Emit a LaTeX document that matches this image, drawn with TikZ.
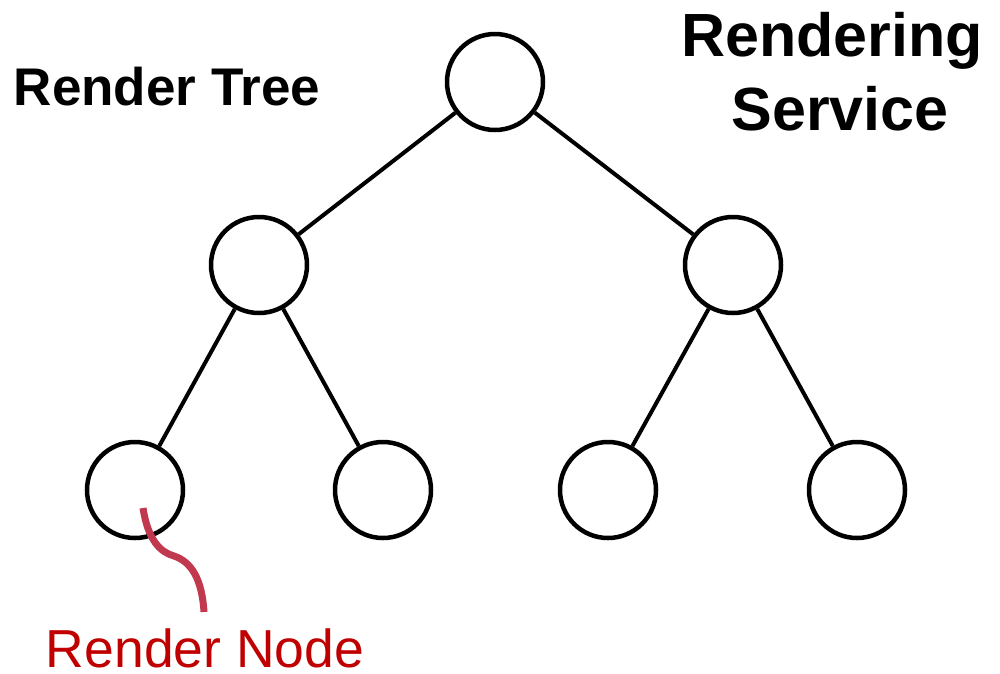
\documentclass[tikz,border=0pt]{standalone}
\usepackage{fontspec}
\setmainfont{Liberation Sans}
\begin{document}
\begin{tikzpicture}[x=1pt,y=-1pt,
  tnode/.style={circle,draw=black,line width=4.5pt,minimum size=96pt,inner sep=0pt},
  edge/.style={draw=black,line width=4pt},
  title/.style={font=\bfseries\fontsize{53}{60}\selectfont,anchor=base,inner sep=0pt},
  bigtitle/.style={title,font=\bfseries\fontsize{61}{68}\selectfont},
  callout/.style={draw={rgb,255:red,192;green,57;blue,79},line width=7pt},
  calllabel/.style={text={rgb,255:red,192;green,0;blue,0},font=\fontsize{53.5}{60}\selectfont,anchor=base,inner sep=0pt}]
\useasboundingbox (0,0) rectangle (1000,673);
% tree nodes
\node[tnode] (root) at (495,82) {};
\node[tnode] (l) at (259,265) {};
\node[tnode] (r) at (733,265) {};
\node[tnode] (ll) at (135,490) {};
\node[tnode] (lr) at (383,490) {};
\node[tnode] (rl) at (608,490) {};
\node[tnode] (rr) at (857,490) {};
% edges
\draw[edge] (root) -- (l);
\draw[edge] (root) -- (r);
\draw[edge] (l) -- (ll);
\draw[edge] (l) -- (lr);
\draw[edge] (r) -- (rl);
\draw[edge] (r) -- (rr);
% titles
\node[title] (t1) at (167,105) {Render Tree};
\node[bigtitle] (t2) at (832,56) {Rendering};
\node[bigtitle] (t3) at (840,130) {Service};
% callout
\coordinate (c0) at (143,508);
\coordinate (c1) at (204,612);
\draw[callout] (c0) .. controls (148,540) and (160,552) .. (174,556)
  .. controls (192,562) and (202,580) .. (c1);
\node[calllabel] (lab) at (205,667) {Render Node};
\end{tikzpicture}
\end{document}
